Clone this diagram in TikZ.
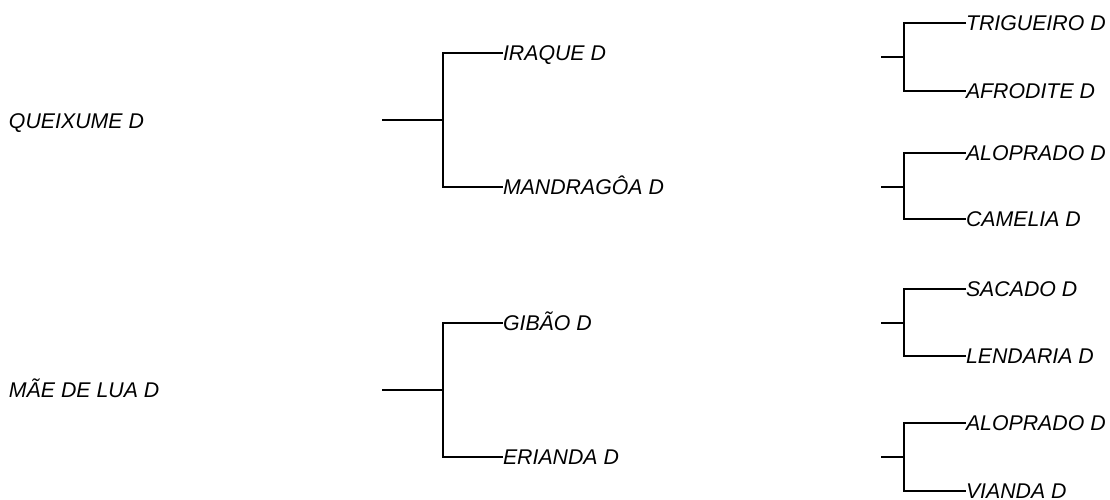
\documentclass[tikz,border=0pt]{standalone}
\usepackage{fontspec}
\setmainfont{Liberation Sans}
\begin{document}
\begin{tikzpicture}[x=1pt,y=-1pt,
  lbl/.style={anchor=west,inner sep=0pt,outer sep=0pt,font=\fontsize{21.3}{25}\selectfont\itshape,text height=15.2pt,text depth=0pt},
  br/.style={line width=2.4pt,line cap=rect},
  fk/.style={line width=2.4pt}]
\useasboundingbox (0,0) rectangle (1110,500);
% left labels
\node[lbl] (queixume) at (9,121) {QUEIXUME D};
\node[lbl] (mae) at (9,390) {MÃE DE LUA D};
% middle labels
\node[lbl] (iraque) at (503,53) {IRAQUE D};
\node[lbl] (mandragoa) at (503,187) {MANDRAGÔA D};
\node[lbl] (gibao) at (503,323) {GIBÃO D};
\node[lbl] (erianda) at (503,457) {ERIANDA D};
% right labels
\node[lbl] (trigueiro) at (966,23) {TRIGUEIRO D};
\node[lbl] (afrodite) at (966,91) {AFRODITE D};
\node[lbl] (aloprado1) at (966,153) {ALOPRADO D};
\node[lbl] (camelia) at (966,219) {CAMELIA D};
\node[lbl] (sacado) at (966,289) {SACADO D};
\node[lbl] (lendaria) at (966,356) {LENDARIA D};
\node[lbl] (aloprado2) at (966,423) {ALOPRADO D};
\node[lbl] (vianda) at (966,491) {VIANDA D};
% stems
\coordinate (s1) at (383,120);
\coordinate (s2) at (383,390);
\coordinate (r1) at (882,57);
\coordinate (r2) at (882,187);
\coordinate (r3) at (882,323);
\coordinate (r4) at (882,457);
% middle trees
\draw[br] (s1) -- (443,120);
\draw[fk] (iraque.west) -| (443,120) |- (mandragoa.west);
\draw[br] (s2) -- (443,390);
\draw[fk] (gibao.west) -| (443,390) |- (erianda.west);
% right trees
\draw[br] (r1) -- (904,57);
\draw[fk] (trigueiro.west) -| (904,57) |- (afrodite.west);
\draw[br] (r2) -- (904,187);
\draw[fk] (aloprado1.west) -| (904,187) |- (camelia.west);
\draw[br] (r3) -- (904,323);
\draw[fk] (sacado.west) -| (904,323) |- (lendaria.west);
\draw[br] (r4) -- (904,457);
\draw[fk] (aloprado2.west) -| (904,457) |- (vianda.west);
\end{tikzpicture}
\end{document}
